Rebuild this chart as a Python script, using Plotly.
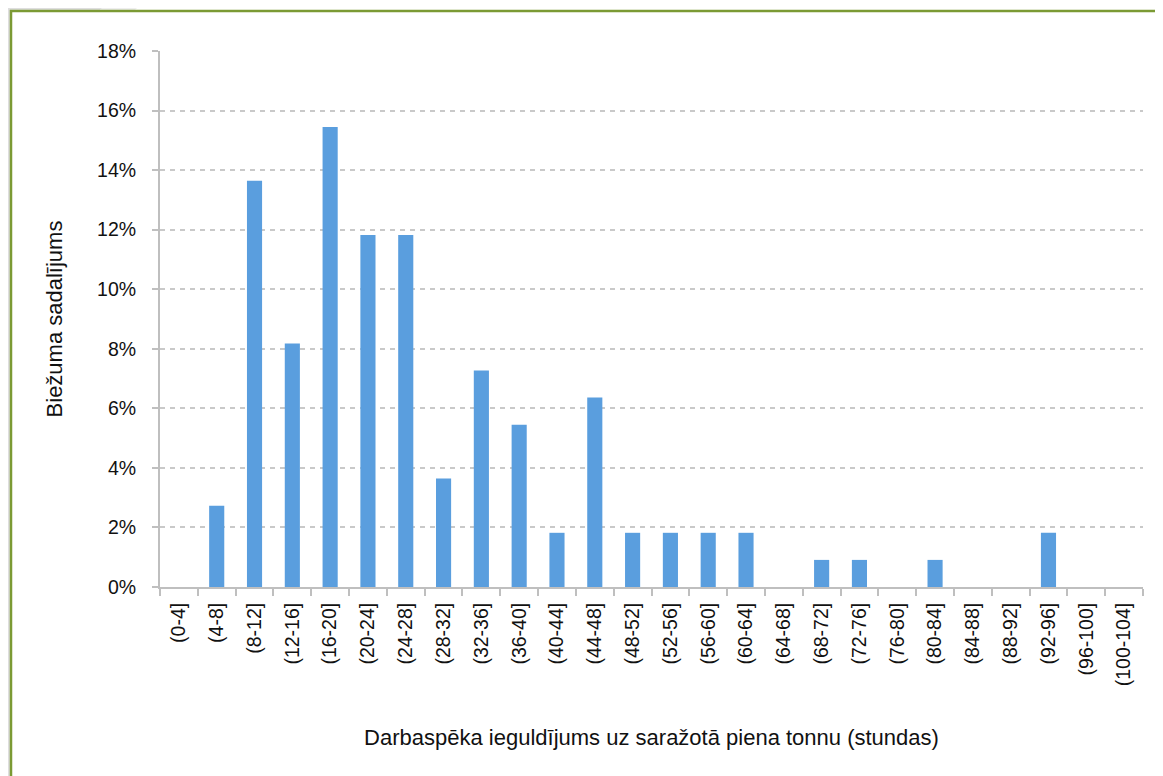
import plotly.graph_objects as go

# ── Data ────────────────────────────────────────────────────────
bins = ["(0-4]", "(4-8]", "(8-12]", "(12-16]", "(16-20]", "(20-24]", "(24-28]",
        "(28-32]", "(32-36]", "(36-40]", "(40-44]", "(44-48]", "(48-52]",
        "(52-56]", "(56-60]", "(60-64]", "(64-68]", "(68-72]", "(72-76]",
        "(76-80]", "(80-84]", "(84-88]", "(88-92]", "(92-96]", "(96-100]",
        "(100-104]"]
share_pct = [0, 2.73, 13.64, 8.18, 15.45, 11.82, 11.82,
             3.64, 7.27, 5.45, 1.82, 6.36, 1.82,
             1.82, 1.82, 1.82, 0, 0.91, 0.91,
             0, 0.91, 0, 0, 1.82, 0,
             0]
y_ticks = [0, 2, 4, 6, 8, 10, 12, 14, 16, 18]
y_tick_text = ["0%", "2%", "4%", "6%", "8%", "10%", "12%", "14%", "16%", "18%"]

x_title = "Darbaspēka ieguldījums uz saražotā piena tonnu (stundas)"
y_title = "Biežuma sadalījums"

# ── Layout geometry (page pixels; page body adds an 8px offset) ─
OFF = 8
W, H = 1163 - OFF, 776 - OFF
L, R, T, B = 160 - OFF, 20, 51 - OFF, 189
pw, ph = W - L - R, H - T - B

def px_x(x):
    return (x - OFF - L) / pw

def px_y(y):
    return (H - B - (y - OFF)) / ph

FONT = "Liberation Sans, Arial, sans-serif"
AX = "#bfbfbf"

fig = go.Figure(go.Bar(
    x=bins, y=share_pct,
    marker=dict(color="#5a9ede", line=dict(width=0)),
    hoverinfo="x+y",
))

# slide frame: grey backdrop, white panel with green top/left edge
fig.add_shape(type="rect", xref="paper", yref="paper", layer="below",
              x0=px_x(0), x1=px_x(1200), y0=px_y(800), y1=px_y(0),
              fillcolor="#ffffff", line_width=0)
fig.add_shape(type="path", xref="paper", yref="paper", layer="below",
              path=f"M {px_x(0)} {px_y(0)} L {px_x(112)} {px_y(0)} "
                   f"L {px_x(100)} {px_y(10)} L {px_x(10)} {px_y(10)} "
                   f"L {px_x(10)} {px_y(800)} L {px_x(0)} {px_y(800)} Z",
              fillcolor="#dedede", line_width=0)
fig.add_shape(type="path", xref="paper", yref="paper", layer="below",
              path=f"M {px_x(112)} {px_y(0)} L {px_x(145)} {px_y(0)} "
                   f"L {px_x(135)} {px_y(10)} L {px_x(100)} {px_y(10)} Z",
              fillcolor="#eeeeee", line_width=0)
fig.add_shape(type="path", xref="paper", yref="paper", layer="below",
              path=f"M {px_x(11)} {px_y(800)} L {px_x(11)} {px_y(11)} "
                   f"L {px_x(1200)} {px_y(11)}",
              line=dict(color="#7b9a34", width=2.5))

fig.update_layout(
    width=W, height=H,
    margin=dict(l=L, r=R, t=T, b=B),
    paper_bgcolor="#ffffff",
    plot_bgcolor="rgba(0,0,0,0)",
    bargap=0.6,
    showlegend=False,
    font=dict(family=FONT, color="#111111", size=19.5),
    xaxis=dict(
        type="category",
        tickson="boundaries",
        ticks="outside", ticklen=7, tickwidth=2, tickcolor=AX,
        showline=True, linecolor=AX, linewidth=2,
        showgrid=False,
        tickangle=-90,
        ticklabelstandoff=6,
        tickfont=dict(size=19.5),
        title=dict(text=x_title, font=dict(size=22), standoff=44),
    ),
    yaxis=dict(
        range=[0, 18],
        tickvals=y_ticks,
        ticktext=y_tick_text,
        ticks="outside", ticklen=6, tickwidth=2, tickcolor=AX,
        showline=True, linecolor=AX, linewidth=2,
        showgrid=True, gridcolor="#c9c9c9", gridwidth=2, griddash="5px,5px",
        zeroline=False,
        ticklabelstandoff=12,
        tickfont=dict(size=19.5),
        title=dict(text=y_title, font=dict(size=22), standoff=28),
    ),
)

fig.write_html("out.html")
